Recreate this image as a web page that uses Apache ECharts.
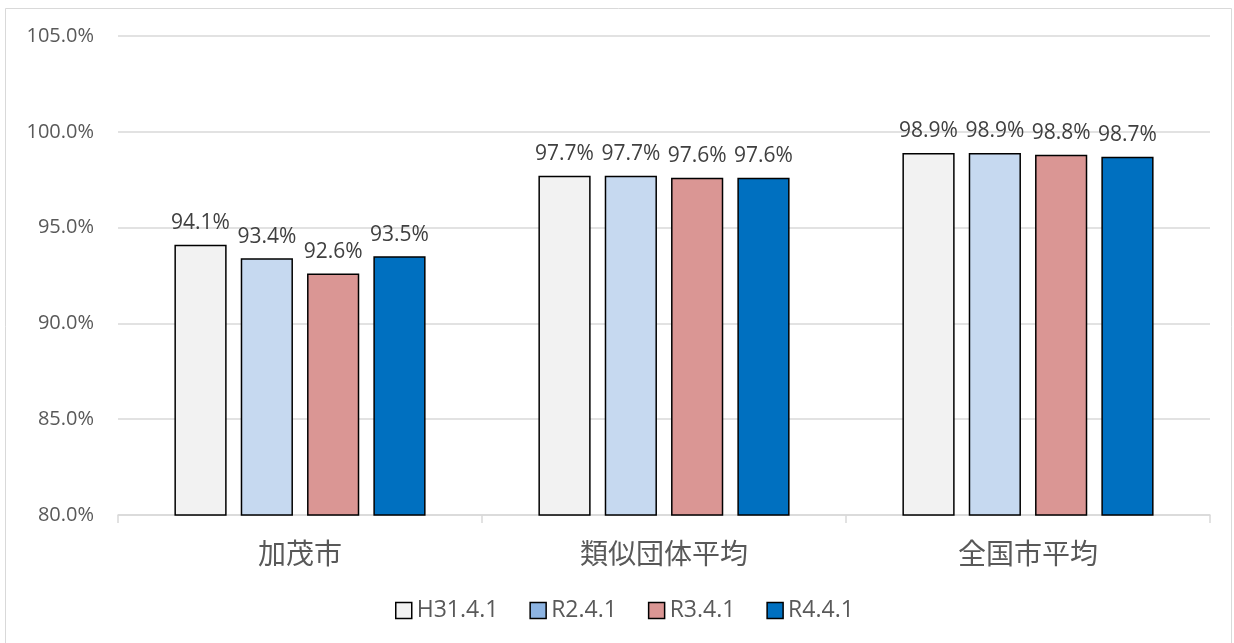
<!DOCTYPE html>
<html>
<head>
<meta charset="utf-8">
<script src="https://cdn.jsdelivr.net/npm/echarts@6/dist/echarts.min.js"></script>
<style>
  html, body { margin: 0; padding: 0; background: #fff; }
  #chart { width: 1234px; height: 643px; }
</style>
</head>
<body>
<div id="chart"></div>
<script>
// カテゴリ・系列データ
var categories = ["加茂市", "類似団体平均", "全国市平均"];
var seriesNames = ["H31.4.1", "R2.4.1", "R3.4.1", "R4.4.1"];
var valuesH31 = [94.1, 97.7, 98.9];
var valuesR2 = [93.4, 97.7, 98.9];
var valuesR3 = [92.6, 97.6, 98.8];
var valuesR4 = [93.5, 97.6, 98.7];
var yTicks = [80, 85, 90, 95, 100, 105];

var barColors = ["#F2F2F2", "#C6D9F0", "#DA9694", "#0070C0"];
var legendColors = ["#F2F2F2", "#8DB4E2", "#DA9694", "#0070C0"];
var allValues = [valuesH31, valuesR2, valuesR3, valuesR4];

var chart = echarts.init(document.getElementById("chart"));

var series = [];
for (var i = 0; i < seriesNames.length; i++) {
  series.push({
    name: seriesNames[i],
    type: "bar",
    data: allValues[i],
    barGap: "27%",
    barCategoryGap: "31%",
    itemStyle: {
      color: barColors[i],
      borderColor: "#000",
      borderWidth: 1.5
    },
    label: {
      show: true,
      position: "top",
      distance: 11,
      fontFamily: "Open Sans",
      fontSize: 21,
      color: "#404040",
      formatter: function (p) {
        return p.value.toFixed(1) + "%";
      }
    }
  });
}

var legendData = seriesNames.map(function (n, i) {
  return { name: n, itemStyle: { color: legendColors[i], borderColor: "#000", borderWidth: 1.5 } };
});

var option = {
  animation: false,
  backgroundColor: "#fff",
  graphic: [{
    type: "rect",
    shape: { x: 5.5, y: 8.5, width: 1226, height: 640 },
    style: { fill: "none", stroke: "#D9D9D9", lineWidth: 1 },
    silent: true
  }],
  grid: { left: 118, right: 24, top: 36, bottom: 128 },
  legend: {
    bottom: 16,
    left: 390,
    data: legendData,
    icon: "rect",
    itemWidth: 16,
    itemHeight: 16,
    itemGap: 31,
    textStyle: { fontFamily: "Open Sans", fontSize: 23, color: "#595959", padding: [0, 0, 0, 0] }
  },
  xAxis: {
    type: "category",
    data: categories,
    axisLine: { lineStyle: { color: "#D9D9D9", width: 1.5 } },
    axisTick: { show: true, length: 8, lineStyle: { color: "#D9D9D9", width: 1.5 } },
    axisLabel: {
      margin: 24,
      fontFamily: "Noto Sans CJK JP",
      fontSize: 28,
      color: "#595959"
    }
  },
  yAxis: {
    type: "value",
    min: yTicks[0],
    max: yTicks[yTicks.length - 1],
    interval: 5,
    axisLine: { show: false },
    axisTick: { show: false },
    splitLine: { lineStyle: { color: "#D9D9D9", width: 1.5 } },
    axisLabel: {
      margin: 24,
      fontFamily: "Open Sans",
      fontSize: 20,
      color: "#595959",
      formatter: function (v) { return v.toFixed(1) + "%"; }
    }
  },
  series: series
};

chart.setOption(option);
</script>
</body>
</html>
